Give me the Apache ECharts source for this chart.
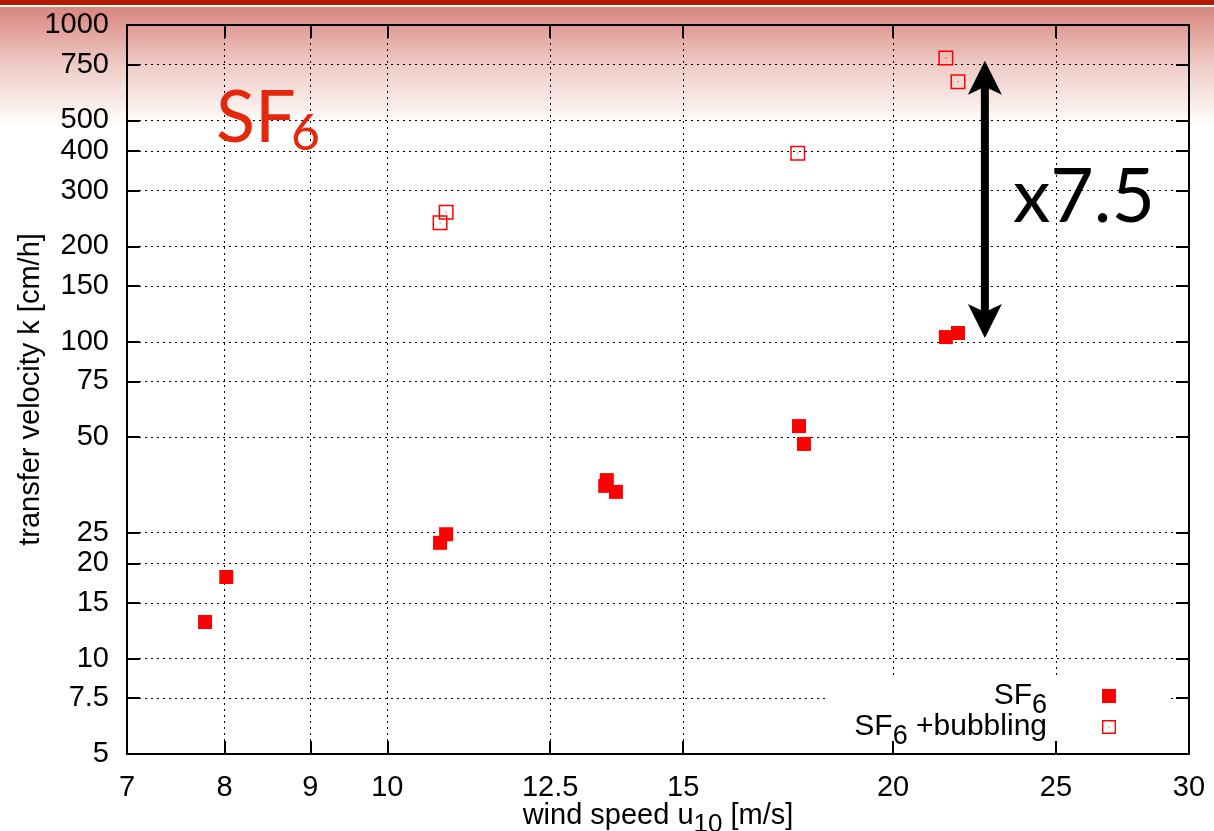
<!DOCTYPE html>
<html>
<head>
<meta charset="utf-8">
<script src="https://cdn.jsdelivr.net/npm/echarts@6/dist/echarts.min.js"></script>
<style>
  html, body { margin: 0; padding: 0; background: #fff; }
  #chart { width: 1214px; height: 831px; }
</style>
</head>
<body>
<div id="chart"></div>
<script>
// Transfer velocity of SF6 against wind speed, with and without bubbling
const sf6Wind = [7.79, 8.02, 10.75, 10.84, 13.48, 13.51, 13.68, 17.58, 17.70, 21.50, 21.86];
const sf6K    = [13.05, 18.1, 23.2, 24.7, 35.1, 36.6, 33.6, 54.2, 47.6, 103.5, 106.6];
const bubWind = [10.75, 10.84, 17.55, 21.50, 21.86];
const bubK    = [237.6, 256.3, 393.5, 786.6, 662];

const xTicks = [7, 8, 9, 10, 12.5, 15, 20, 25, 30];
const yTicks = [5, 7.5, 10, 15, 20, 25, 50, 75, 100, 150, 200, 300, 400, 500, 750, 1000];

const seriesNames = ['SF6', 'SF6 +bubbling'];
const xName = 'wind speed u{s|10} [m/s]';
const yName = 'transfer velocity k [cm/h]';

// enhancement arrow between the two regimes at the highest wind speed
const arrowWind = 22.68;
const arrowK = [771, 102.8];
const ratioLabel = 'x7.5';

const FONT = 'Liberation Sans';
const TITLE_FONT = 'Lato';
const RED = '#ff0000';

// open square with a centre dot
const openSquare = 'path://M0,0H30V30H0Z M3,3V27H27V3Z M14,14H16V16H14Z';

// subscript: slightly smaller glyphs pushed down by a top padding
function subStyle(size) {
  return { fontFamily: FONT, fontSize: size, color: '#000',
           verticalAlign: 'top', padding: [19, 0, 0, 0] };
}

function pairs(xs, ys) { return xs.map((x, i) => [x, ys[i]]); }

function logAxis(position, ticks, min, max, opts) {
  return {
    type: 'log', logBase: 10, position: position, min: min, max: max, z: opts.z,
    axisLine: { show: true, onZero: false, lineStyle: { color: '#000', width: 2 } },
    axisTick: { show: true, inside: true, length: 13, customValues: ticks,
                lineStyle: { color: '#000', width: 2 } },
    axisLabel: { show: !!opts.labels, customValues: ticks, fontFamily: FONT, fontSize: 29,
                 color: '#000', margin: opts.margin || 8, formatter: v => String(v) },
    splitLine: { show: !!opts.grid, lineStyle: { color: '#000', width: 1, type: [2, 4] } },
    minorTick: { show: false }, minorSplitLine: { show: false }
  };
}

const chart = echarts.init(document.getElementById('chart'), null, { renderer: 'canvas' });

// bottom axis sits above the legend box so its line and ticks stay visible
const xBottom = logAxis('bottom', xTicks, 7, 30, { z: 5, labels: true, margin: 19 });
Object.assign(xBottom, {
  name: xName, nameLocation: 'middle', nameGap: 39, nameMoveOverlap: false,
  nameTextStyle: { fontFamily: FONT, fontSize: 29, color: '#000', rich: { s: subStyle(26) } }
});
const xTop = logAxis('top', xTicks, 7, 30, { z: 0, grid: true });

const yLeft = logAxis('left', yTicks, 5, 1000, { z: 0, labels: true, grid: true, margin: 18 });
Object.assign(yLeft, {
  name: yName, nameLocation: 'middle', nameGap: 82, nameMoveOverlap: false,
  nameTextStyle: { fontFamily: FONT, fontSize: 29, color: '#000' }
});
const yRight = logAxis('right', yTicks, 5, 1000, { z: 0 });

const baseGraphics = [
  { type: 'rect', id: 'band', z: -10, silent: true,
    shape: { x: 0, y: 0, width: 1214, height: 5 }, style: { fill: '#b31a00' } },
  { type: 'rect', id: 'fade', z: -10, silent: true,
    shape: { x: 0, y: 7, width: 1214, height: 120 },
    style: { fill: { type: 'linear', x: 0, y: 0, x2: 0, y2: 1, colorStops: [
      { offset: 0, color: '#d8867e' },
      { offset: 0.5, color: '#f0cdc8' },
      { offset: 1, color: '#ffffff' }
    ] } } },
  // white key box, above the grid lines and below the bottom axis
  { type: 'rect', id: 'keyBox', z: 1, silent: true,
    shape: { x: 828, y: 678, width: 343, height: 70 }, style: { fill: '#ffffff' } },
  { type: 'text', id: 'titleMain', z: 10, silent: true, x: 216, y: 119,
    style: { text: 'SF', fontFamily: TITLE_FONT, fontSize: 72, fill: '#e4280c',
             align: 'left', verticalAlign: 'middle' } },
  { type: 'text', id: 'titleSub', z: 10, silent: true, x: 291, y: 134,
    style: { text: '6', fontFamily: TITLE_FONT, fontSize: 50, fill: '#e4280c',
             align: 'left', verticalAlign: 'middle' } },
  { type: 'text', id: 'ratio', z: 10, silent: true, x: 1013, y: 198,
    style: { text: ratioLabel, fontFamily: TITLE_FONT, fontSize: 75, fill: '#000',
             align: 'left', verticalAlign: 'middle' } }
];

const option = {
  animation: false,
  textStyle: { fontFamily: FONT },
  grid: { left: 127, right: 25, top: 25, bottom: 77, containLabel: false, outerBoundsMode: 'none' },
  xAxis: [xBottom, xTop],
  yAxis: [yLeft, yRight],
  legend: {
    orient: 'vertical', align: 'right', right: 98, top: 681,
    padding: 0, itemGap: -7, itemWidth: 14, itemHeight: 14,
    selectedMode: false, z: 4,
    formatter: n => n.replace('SF6', 'SF{s|6}'),
    textStyle: { fontFamily: FONT, fontSize: 30, color: '#000',
                 padding: [0, 50, 0, 0], rich: { s: subStyle(27) } },
    data: [
      { name: seriesNames[0], icon: 'rect' },
      { name: seriesNames[1], icon: openSquare }
    ]
  },
  graphic: baseGraphics,
  series: [
    { name: seriesNames[0], type: 'scatter', xAxisIndex: 0, yAxisIndex: 0,
      symbol: 'rect', symbolSize: 14, itemStyle: { color: RED, opacity: 1 },
      emphasis: { disabled: true }, data: pairs(sf6Wind, sf6K), z: 3 },
    { name: seriesNames[1], type: 'scatter', xAxisIndex: 0, yAxisIndex: 0,
      symbol: openSquare, symbolSize: 15, itemStyle: { color: RED, opacity: 1 },
      emphasis: { disabled: true }, data: pairs(bubWind, bubK), z: 3 }
  ]
};

chart.setOption(option);

// double-headed arrow placed through the axes' own scales
const pTop = chart.convertToPixel({ seriesIndex: 0 }, [arrowWind, arrowK[0]]);
const pBot = chart.convertToPixel({ seriesIndex: 0 }, [arrowWind, arrowK[1]]);
const cx = pTop[0], hw = 17, hh = 34, notch = 26, sw = 4;
chart.setOption({
  graphic: baseGraphics.concat([
    { type: 'polygon', id: 'arrowUp', z: 10, silent: true,
      shape: { points: [[cx, pTop[1]], [cx + hw, pTop[1] + hh], [cx, pTop[1] + notch], [cx - hw, pTop[1] + hh]] },
      style: { fill: '#000' } },
    { type: 'polygon', id: 'arrowDown', z: 10, silent: true,
      shape: { points: [[cx, pBot[1]], [cx + hw, pBot[1] - hh], [cx, pBot[1] - notch], [cx - hw, pBot[1] - hh]] },
      style: { fill: '#000' } },
    { type: 'rect', id: 'arrowShaft', z: 10, silent: true,
      shape: { x: cx - sw, y: pTop[1] + notch - 2, width: 2 * sw, height: pBot[1] - pTop[1] - 2 * notch + 4 },
      style: { fill: '#000' } }
  ])
});
</script>
</body>
</html>
